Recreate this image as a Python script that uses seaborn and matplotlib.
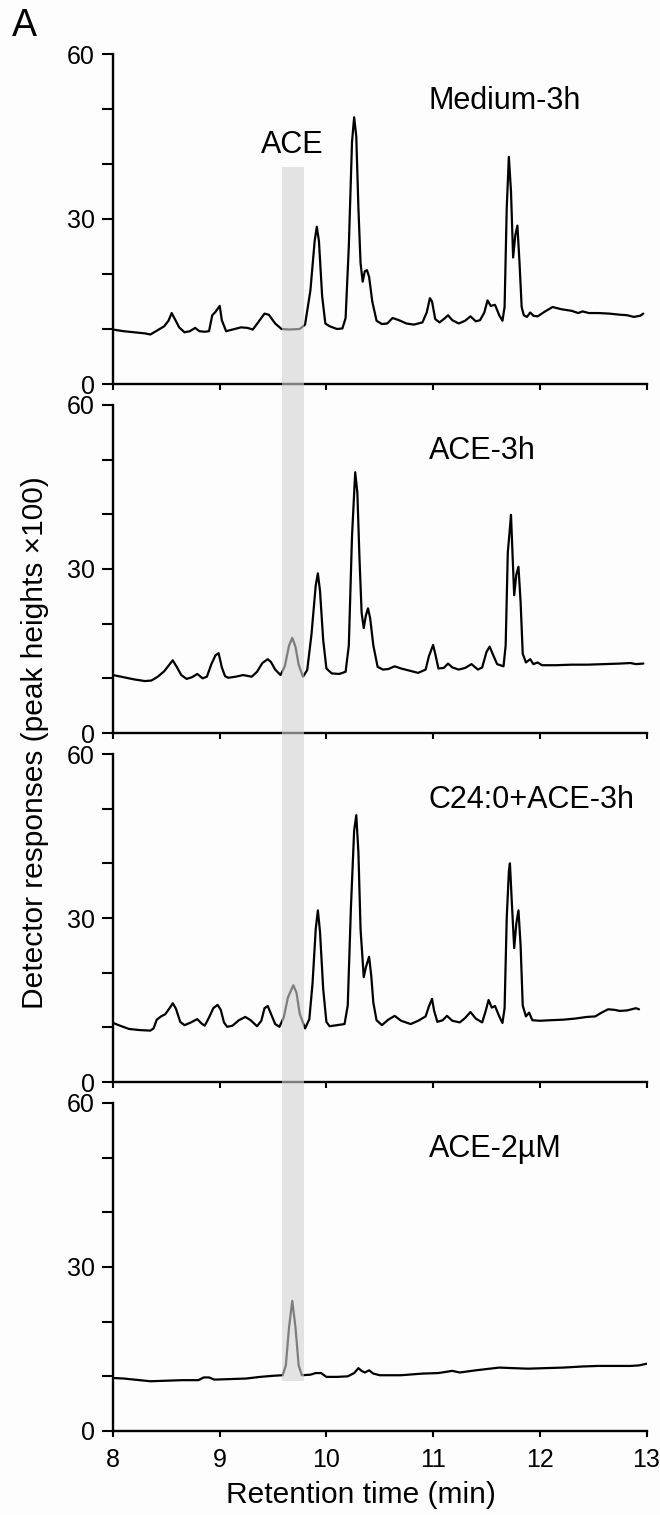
import numpy as np
import pandas as pd
import matplotlib
matplotlib.use('Agg')
import matplotlib.pyplot as plt
from matplotlib.patches import Rectangle
import seaborn as sns

# ─── DATA ─────────────────────────────────────────────────────────────────────
PANEL_LABELS = ["Medium-3h", "ACE-3h", "C24:0+ACE-3h", "ACE-2\u00b5M"]

MED_T = [8.00, 8.10, 8.20, 8.30, 8.35, 8.42, 8.48, 8.52, 8.55, 8.58, 8.62, 8.67,
         8.72, 8.77, 8.81, 8.86, 8.90, 8.93, 8.96, 9.00, 9.02, 9.06, 9.12, 9.20,
         9.26, 9.31, 9.36, 9.42, 9.46, 9.52, 9.58, 9.65, 9.75, 9.80, 9.85, 9.89,
         9.91, 9.93, 9.96, 9.99, 10.03, 10.10, 10.15, 10.18, 10.21, 10.24, 10.26,
         10.28, 10.30, 10.32, 10.34, 10.36, 10.38, 10.40, 10.43, 10.47, 10.52,
         10.57, 10.62, 10.68, 10.75, 10.82, 10.90, 10.94, 10.97, 10.99, 11.02,
         11.06, 11.10, 11.14, 11.18, 11.24, 11.30, 11.35, 11.40, 11.44, 11.48,
         11.51, 11.54, 11.58, 11.62, 11.65, 11.67, 11.69, 11.71, 11.73, 11.75,
         11.77, 11.79, 11.81, 11.83, 11.85, 11.88, 11.91, 11.94, 11.98, 12.05,
         12.12, 12.20, 12.30, 12.36, 12.40, 12.46, 12.55, 12.65, 12.75, 12.82,
         12.88, 12.94, 12.97]
MED_Y = [9.9, 9.6, 9.4, 9.2, 9.0, 9.8, 10.5, 11.5, 12.9, 11.8, 10.3, 9.4,
         9.6, 10.2, 9.6, 9.5, 9.6, 12.5, 13.1, 14.2, 11.6, 9.6, 9.9, 10.3,
         10.2, 9.9, 11.2, 12.8, 12.6, 11.0, 10.0, 9.9, 10.0, 10.8, 17.0, 26.0,
         28.6, 26.0, 16.0, 11.0, 10.5, 10.0, 10.1, 12.0, 25.0, 44.0, 48.5,
         45.0, 32.0, 22.0, 18.6, 20.5, 20.7, 19.5, 15.0, 11.5, 10.9,
         11.0, 12.0, 11.6, 11.0, 10.8, 11.2, 13.0, 15.6, 15.0, 11.8,
         11.2, 11.8, 12.5, 11.6, 11.0, 11.5, 12.3, 11.4, 11.6, 13.0,
         15.2, 14.2, 14.4, 12.5, 11.5, 14.0, 32.0, 41.3, 35.0, 23.0,
         27.0, 28.8, 22.0, 14.0, 12.5, 12.2, 13.0, 12.4, 12.3, 13.2,
         14.0, 13.6, 13.3, 12.9, 13.2, 12.9, 12.9, 12.8, 12.6, 12.5,
         12.2, 12.4, 12.8]

ACE3_T = [8.00, 8.10, 8.20, 8.30, 8.36, 8.42, 8.48, 8.52, 8.56, 8.60, 8.64, 8.69,
          8.74, 8.79, 8.84, 8.88, 8.92, 8.96, 8.99, 9.02, 9.05, 9.08, 9.15, 9.22,
          9.30, 9.35, 9.40, 9.45, 9.48, 9.52, 9.57, 9.61, 9.65, 9.68, 9.71, 9.74,
          9.78, 9.82, 9.86, 9.90, 9.92, 9.94, 9.97, 10.00, 10.05, 10.12, 10.18,
          10.21, 10.24, 10.27, 10.29, 10.31, 10.33, 10.35, 10.37, 10.39, 10.41,
          10.44, 10.48, 10.53, 10.58, 10.64, 10.70, 10.78, 10.86, 10.93, 10.96,
          11.00, 11.02, 11.05, 11.10, 11.14, 11.18, 11.24, 11.30, 11.36, 11.42,
          11.46, 11.50, 11.53, 11.56, 11.60, 11.66, 11.68, 11.70, 11.72, 11.73,
          11.75, 11.76, 11.78, 11.80, 11.82, 11.84, 11.87, 11.91, 11.94, 11.98,
          12.02, 12.15, 12.30, 12.45, 12.60, 12.75, 12.85, 12.90, 12.97]
ACE3_Y = [10.6, 10.2, 9.8, 9.5, 9.6, 10.3, 11.3, 12.3, 13.3, 12.0, 10.6, 9.9,
          10.2, 10.8, 10.0, 10.3, 12.5, 14.2, 14.6, 12.0, 10.4, 10.1, 10.3, 10.6,
          10.3, 11.2, 12.8, 13.5, 13.0, 11.6, 10.6, 12.2, 16.0, 17.4, 15.8, 12.5,
          10.3, 11.5, 18.0, 27.0, 29.2, 26.0, 17.0, 11.8, 10.9, 10.8, 11.2,
          16.0, 36.0, 47.7, 44.0, 32.0, 22.0, 19.2, 21.5, 22.8, 21.0,
          16.0, 12.1, 11.6, 11.7, 12.2, 11.8, 11.4, 11.0, 11.6, 14.0,
          16.1, 14.5, 11.8, 11.9, 12.7, 12.0, 11.6, 11.9, 12.6, 11.6,
          12.0, 14.8, 15.8, 14.4, 12.6, 12.2, 16.0, 33.0, 37.5, 39.9,
          30.0, 25.2, 29.0, 30.4, 24.0, 14.5, 12.9, 13.5, 12.6, 12.9,
          12.4, 12.4, 12.5, 12.5, 12.6, 12.7, 12.8, 12.6, 12.7]

C24_T = [8.00, 8.08, 8.15, 8.25, 8.35, 8.38, 8.41, 8.45, 8.49, 8.53, 8.56, 8.59,
         8.63, 8.67, 8.72, 8.79, 8.83, 8.86, 8.90, 8.94, 8.98, 9.01, 9.04, 9.07,
         9.12, 9.18, 9.24, 9.29, 9.35, 9.39, 9.42, 9.45, 9.48, 9.52, 9.56, 9.60,
         9.64, 9.69, 9.72, 9.75, 9.80, 9.84, 9.87, 9.90, 9.92, 9.94, 9.97, 10.00,
         10.03, 10.10, 10.17, 10.20, 10.23, 10.26, 10.28, 10.30, 10.32, 10.35,
         10.37, 10.40, 10.42, 10.44, 10.47, 10.52, 10.58, 10.64, 10.70, 10.79,
         10.86, 10.93, 10.96, 10.99, 11.01, 11.04, 11.09, 11.13, 11.18, 11.25,
         11.30, 11.35, 11.40, 11.46, 11.49, 11.52, 11.55, 11.58, 11.62, 11.65,
         11.67, 11.69, 11.71, 11.72, 11.74, 11.76, 11.78, 11.80, 11.82, 11.84,
         11.87, 11.90, 11.93, 12.00, 12.10, 12.22, 12.33, 12.44, 12.52, 12.58,
         12.64, 12.70, 12.75, 12.82, 12.90, 12.93]
C24_Y = [10.8, 10.2, 9.7, 9.5, 9.4, 9.8, 11.4, 12.0, 12.4, 13.5, 14.4, 13.4,
         11.0, 10.4, 10.8, 11.5, 10.7, 10.3, 11.8, 13.5, 14.1, 13.2, 10.9, 10.1,
         10.3, 11.3, 11.9, 11.3, 10.2, 11.2, 13.5, 13.9, 12.5, 10.6, 10.1, 11.8,
         15.5, 17.7, 16.3, 12.5, 9.8, 11.5, 18.0, 28.0, 31.4, 27.5, 17.0, 11.0,
         10.2, 10.4, 10.6, 14.0, 32.0, 46.0, 48.8, 42.0, 28.0, 19.2,
         21.0, 22.9, 19.5, 14.5, 11.3, 10.4, 11.4, 12.1, 11.2, 10.6,
         11.2, 12.0, 13.8, 15.2, 13.0, 11.0, 11.3, 12.1, 11.2, 10.9,
         11.7, 12.8, 11.6, 10.9, 12.8, 15.0, 13.6, 13.9, 12.0, 10.8,
         13.5, 30.0, 38.5, 40.0, 32.0, 24.5, 29.0, 31.4, 25.0, 14.0,
         12.0, 12.7, 11.3, 11.2, 11.3, 11.4, 11.6, 11.9, 12.0, 12.7,
         13.3, 13.2, 13.0, 13.1, 13.5, 13.3]

STD_T = [8.00, 8.10, 8.20, 8.35, 8.50, 8.65, 8.80, 8.85, 8.90, 8.95, 9.10, 9.25,
         9.38, 9.50, 9.59, 9.62, 9.65, 9.68, 9.71, 9.74, 9.77, 9.85, 9.90, 9.95,
         10.00, 10.10, 10.20, 10.26, 10.30, 10.33, 10.36, 10.40, 10.44, 10.50,
         10.70, 10.90, 11.05, 11.18, 11.25, 11.40, 11.62, 11.75, 11.89, 12.05,
         12.22, 12.40, 12.54, 12.70, 12.85, 12.93, 13.00]
STD_Y = [9.7, 9.6, 9.4, 9.1, 9.2, 9.3, 9.3, 9.8, 9.8, 9.4, 9.5, 9.6,
         9.9, 10.1, 10.2, 12.0, 19.0, 23.8, 19.0, 12.0, 10.2, 10.3, 10.6, 10.6,
         9.9, 9.9, 10.0, 10.6, 11.5, 11.0, 10.7, 11.1, 10.5, 10.2,
         10.2, 10.5, 10.6, 11.0, 10.7, 11.1, 11.6, 11.5, 11.4, 11.5,
         11.6, 11.8, 11.9, 11.9, 11.9, 12.0, 12.3]

TRACES = [(MED_T, MED_Y), (ACE3_T, ACE3_Y), (C24_T, C24_Y), (STD_T, STD_Y)]

# ─── CONFIG ───────────────────────────────────────────────────────────────────
ACE_WINDOW = (9.58, 9.79)     # shaded retention window of the ACE standard
BAND_TOP = 39.4               # in top-panel units
BAND_BOTTOM = 9.1             # in bottom-panel units

W, H, DPI = 660, 1515, 100
LEFT, RIGHT = 113, 646.5
PANEL_PX = [(54, 384), (405, 733), (754, 1082), (1103, 1431)]   # (top, bottom)

sns.set_style("ticks")
plt.rcParams['font.family'] = ['Liberation Sans', 'DejaVu Sans']
for key in ['text.color', 'axes.labelcolor', 'xtick.color', 'ytick.color',
            'axes.edgecolor']:
    plt.rcParams[key] = 'black'

fig = plt.figure(figsize=(W / DPI, H / DPI), dpi=DPI, facecolor='#fdfdfd')

axes = []
for i, ((top, bot), (t, y)) in enumerate(zip(PANEL_PX, TRACES)):
    ax = fig.add_axes([LEFT / W, 1 - bot / H, (RIGHT - LEFT) / W, (bot - top) / H])
    ax.set_facecolor('none')
    df = pd.DataFrame({'time': t, 'resp': y})
    sns.lineplot(data=df, x='time', y='resp', ax=ax, color='black', lw=1.6,
                 estimator=None, sort=False)
    ax.set_xlim(8, 13)
    ax.set_ylim(0, 60)
    ax.set_yticks([0, 30, 60])
    ax.set_yticks([10, 20, 40, 50], minor=True)
    ax.set_xticks(range(8, 14))
    ax.tick_params(axis='y', which='both', length=8, width=1.5, direction='out',
                   labelsize=18, pad=5)
    ax.tick_params(axis='x', length=4.5, width=1.5, direction='out',
                   labelsize=18, pad=8, labelbottom=(i == 3))
    ax.set_xlabel('')
    ax.set_ylabel('')
    for s in ['left', 'bottom']:
        ax.spines[s].set_linewidth(1.7)
    sns.despine(ax=ax)
    ax.text(10.96, 51.5, PANEL_LABELS[i], fontsize=22, ha='left', va='center')
    axes.append(ax)

axes[0].text(9.68, 43.5, 'ACE', fontsize=22, ha='center', va='center')

# gray window drawn over all panels
to_fig = fig.transFigure.inverted()
x0, y1 = to_fig.transform(axes[0].transData.transform((ACE_WINDOW[0], BAND_TOP)))
x1, y0 = to_fig.transform(axes[3].transData.transform((ACE_WINDOW[1], BAND_BOTTOM)))
fig.patches.append(Rectangle((x0, y0), x1 - x0, y1 - y0, transform=fig.transFigure,
                             facecolor='#d2d2d2', edgecolor='none', alpha=0.6,
                             zorder=10))

fig.text(35 / W, 1 - 743 / H, 'Detector responses (peak heights \u00d7100)',
         rotation=90, fontsize=21.5, ha='center', va='center')
fig.text(361 / W, 1 - 1495 / H, 'Retention time (min)', fontsize=21.5,
         ha='center', va='center')
fig.text(12 / W, 1 - 8 / H, 'A', fontsize=27, ha='left', va='top')

fig.savefig('out.png', dpi=DPI, facecolor=fig.get_facecolor())
